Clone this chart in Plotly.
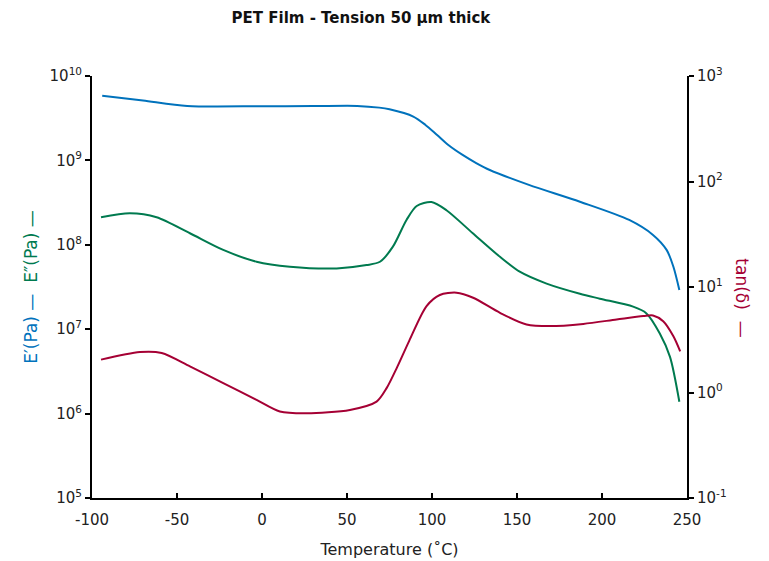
import plotly.graph_objects as go

# Temperature (°C) and values
temp_e1 = [-94, -70, -44, 0, 30, 56, 69, 75, 89, 96, 103, 110, 118, 126, 134, 157, 187, 216, 230,
           238, 242, 245.5]
e_storage = [5.85e9, 5.13e9, 4.42e9, 4.39e9, 4.40e9, 4.42e9, 4.22e9, 4.03e9, 3.31e9, 2.65e9,
             2.0e9, 1.5e9, 1.16e9, 9.3e8, 7.7e8, 5.13e8, 3.24e8, 1.97e8, 1.31e8, 8.7e7, 5.5e7,
             2.92e7]

temp_e2 = [-94.7, -77.7, -62, -42.4, -22.8, -3.2, 16.4, 43.9, 61.5, 69.4, 77, 85, 91, 99.7, 108.5,
           124, 140, 151.6, 167.4, 187, 198.7, 218.3, 226, 234, 240, 245.5]
e_loss = [2.12e8, 2.36e8, 2.12e8, 1.37e8, 8.7e7, 6.3e7, 5.5e7, 5.25e7, 5.75e7, 6.3e7, 9.5e7, 1.97e8,
          2.88e8, 3.21e8, 2.57e8, 1.37e8, 7.2e7, 4.8e7, 3.47e7, 2.63e7, 2.3e7, 1.85e7, 1.55e7,
          8.9e6, 4.7e6, 1.38e6]

temp_tan = [-94.7, -71.8, -59, -42.4, -22.8, -3.2, 10.5, 26.2, 51.7, 67.4, 73.3, 79.5, 86.6, 96.8,
            104.6, 114.4, 124.2, 140, 155.6, 169.3, 189, 208.6, 224.3, 230, 236, 242, 246]
tan_delta = [2.05, 2.42, 2.37, 1.77, 1.23, 0.85, 0.66, 0.635, 0.684, 0.82, 1.10, 1.74, 3.09, 6.59,
             8.4, 8.83, 7.91, 5.69, 4.41, 4.26, 4.47, 4.92, 5.30, 5.37, 4.74, 3.41, 2.45]

x_ticks = [-100, -50, 0, 50, 100, 150, 200, 250]
x_ticktext = ["-100", "-50", "0", "50", "100", "150", "200", "250"]
left_tickvals = [1e5, 1e6, 1e7, 1e8, 1e9, 1e10]
left_ticktext = ["10<sup>5</sup>", "10<sup>6</sup>", "10<sup>7</sup>", "10<sup>8</sup>",
                 "10<sup>9</sup>", "10<sup>10</sup>"]
right_tickvals = [0.1, 1, 10, 100, 1000]
right_ticktext = ["10<sup>-1</sup>", "10<sup>0</sup>", "10<sup>1</sup>", "10<sup>2</sup>", "10<sup>3</sup>"]

BLUE = "#0072bc"
GREEN = "#007a4f"
RED = "#a50034"
FONT = "'DejaVu Sans', sans-serif"

fig = go.Figure()
fig.add_trace(go.Scatter(x=temp_e1, y=e_storage, mode="lines", name="E'",
                         line=dict(color=BLUE, width=2, shape="spline", smoothing=0.8)))
fig.add_trace(go.Scatter(x=temp_e2, y=e_loss, mode="lines", name="E''",
                         line=dict(color=GREEN, width=2, shape="spline", smoothing=0.8)))
fig.add_trace(go.Scatter(x=temp_tan, y=tan_delta, mode="lines", name="tan d", yaxis="y2",
                         line=dict(color=RED, width=2, shape="spline", smoothing=0.8)))

fig.update_layout(
    width=769, height=561,
    margin=dict(l=84, r=90, t=68, b=71),
    paper_bgcolor="white", plot_bgcolor="white",
    showlegend=False,
    font=dict(family=FONT, color="#222", size=15),
    title=dict(text="<b>PET Film - Tension 50 µm thick</b>", xref="container", x=0.459,
               xanchor="center", yref="container", y=0.983, yanchor="middle",
               font=dict(size=15, color="#111")),
    xaxis=dict(range=[-100, 250], tickvals=x_ticks, ticktext=x_ticktext, showgrid=False,
               zeroline=False, automargin=False, ticklabelstandoff=7,
               showline=True, linecolor="black", linewidth=2, ticks="inside", ticklen=5,
               tickwidth=2, tickcolor="black", tickfont=dict(size=15),
               title=dict(text="Temperature (˚C)", font=dict(size=16), standoff=16)),
    yaxis=dict(type="log", range=[5, 10], tickvals=left_tickvals, ticktext=left_ticktext,
               showgrid=False, zeroline=False, automargin=False,
               showline=True, linecolor="black", linewidth=2,
               ticks="outside", ticklen=5, tickwidth=2, tickcolor="black",
               tickfont=dict(size=15),
               title=dict(text=f"<span style='color:{BLUE}'>E′(Pa) —</span>  "
                               f"<span style='color:{GREEN}'>E″(Pa) —</span>",
                          font=dict(size=17), standoff=8)),
    yaxis2=dict(type="log", range=[-1, 3], overlaying="y", side="right", automargin=False,
                tickvals=right_tickvals, ticktext=right_ticktext,
                showgrid=False, zeroline=False, showline=True, linecolor="black", linewidth=2,
                ticks="outside", ticklen=5, tickwidth=2, tickcolor="black",
                tickfont=dict(size=15)),
    annotations=[dict(text="tan(δ)  —", x=1.113, y=0.475, xref="paper", yref="paper",
                      showarrow=False, textangle=90, font=dict(size=17, color=RED))],
)

fig.write_html("out.html")
